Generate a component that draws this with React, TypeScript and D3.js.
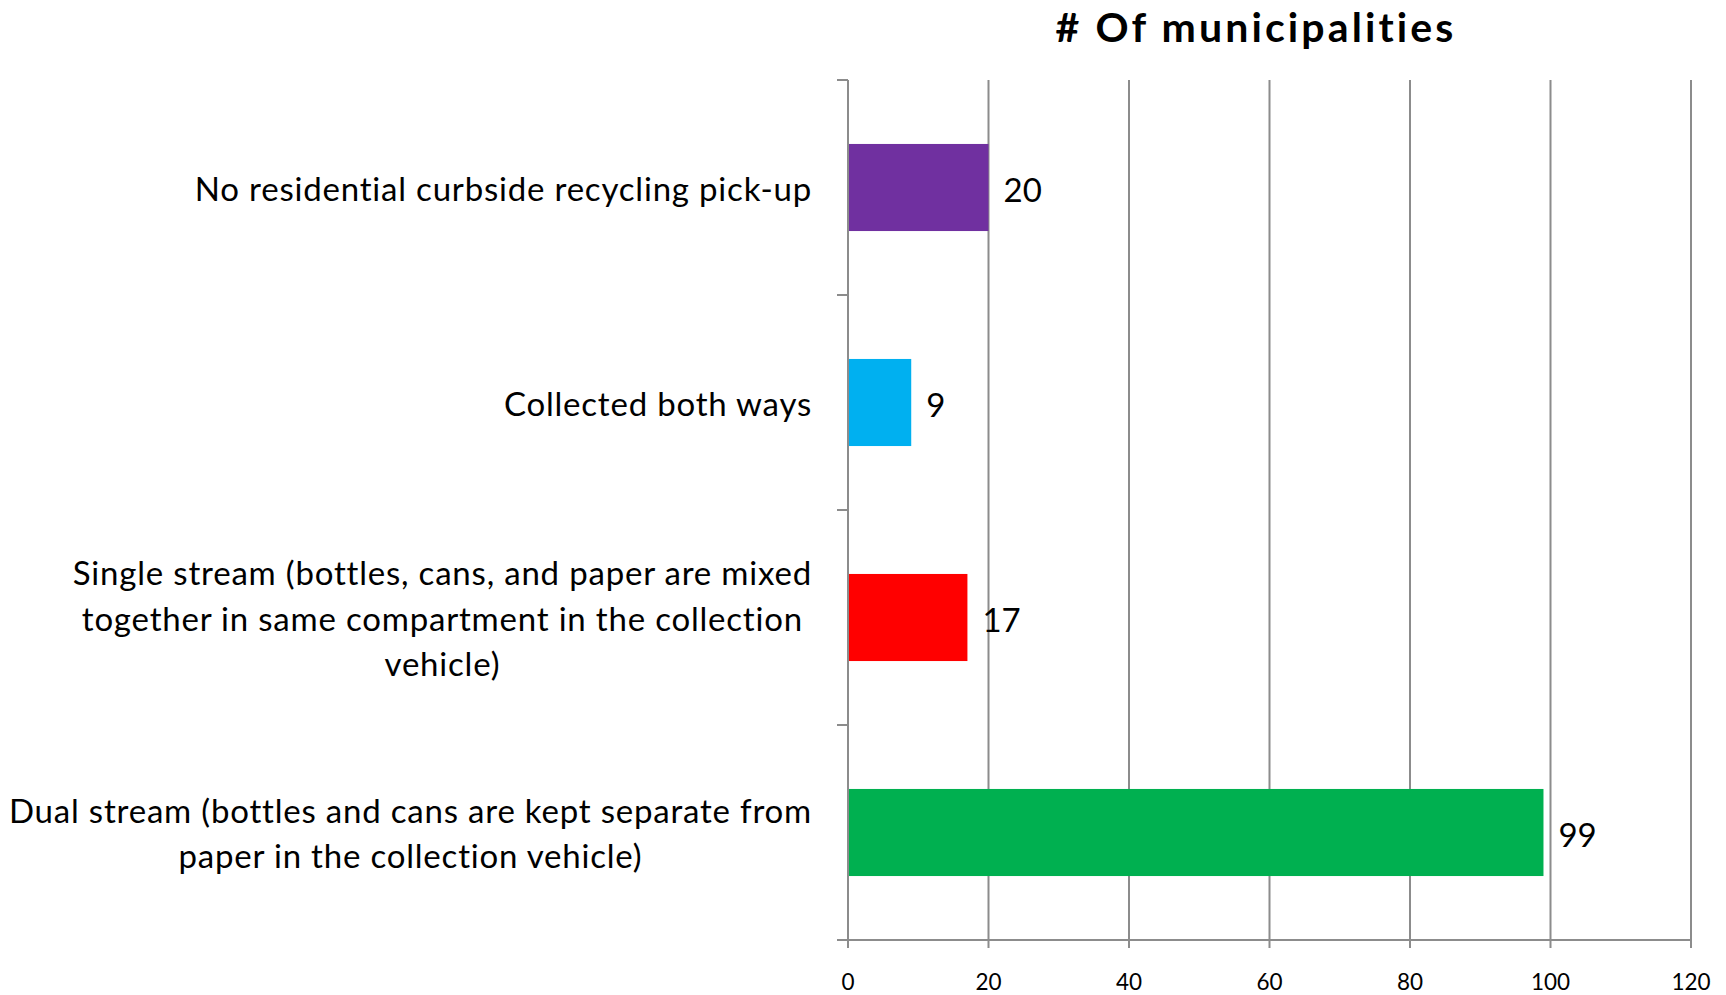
import React, { useEffect, useRef } from "react";
import * as d3 from "d3";

const categories: string[][] = [
  ["No residential curbside recycling pick-up"],
  ["Collected both ways"],
  ["Single stream (bottles, cans, and paper are mixed", "together in same compartment in the collection", "vehicle)"],
  ["Dual stream (bottles and cans are kept separate from", "paper in the collection vehicle)"],
];
const values: number[] = [20, 9, 17, 99];
const barColors: string[] = ["#7030A0", "#00B0F0", "#FF0000", "#00B050"];
const xTicks: number[] = [0, 20, 40, 60, 80, 100, 120];
const title = "# Of municipalities";

const W = 1726;
const H = 995;
const FONT = "Lato, 'Open Sans', sans-serif";

export default function App() {
  const ref = useRef<SVGSVGElement>(null);

  useEffect(() => {
    const svg = d3.select(ref.current);
    svg.selectAll("*").remove();

    const left = 848, right = 1691, top = 80, bottom = 940;
    const x = d3.scaleLinear().domain([0, 120]).range([left, right]);
    const y = d3.scaleBand<number>().domain(d3.range(categories.length)).range([top, bottom]).paddingInner(0).paddingOuter(0);
    const barH = y.bandwidth() * 0.405;
    const grid = "#8c8c8c";

    svg.append("rect").attr("width", W).attr("height", H).attr("fill", "#fff");

    // gridlines
    svg.append("g").selectAll("line").data(xTicks.filter((t) => t > 0)).join("line")
      .attr("x1", (d) => x(d)).attr("x2", (d) => x(d))
      .attr("y1", top).attr("y2", bottom + 8)
      .attr("stroke", grid).attr("stroke-width", 2);

    // bars
    svg.append("g").selectAll("rect").data(values).join("rect")
      .attr("x", x(0) + 1)
      .attr("y", (_d, i) => (y(i) as number) + y.bandwidth() / 2 - barH / 2)
      .attr("width", (d) => x(d) - x(0) - 1)
      .attr("height", barH)
      .attr("fill", (_d, i) => barColors[i]);

    // axes
    svg.append("line").attr("x1", left).attr("x2", left).attr("y1", top).attr("y2", bottom + 8)
      .attr("stroke", grid).attr("stroke-width", 2);
    svg.append("line").attr("x1", left - 11).attr("x2", right).attr("y1", bottom).attr("y2", bottom)
      .attr("stroke", grid).attr("stroke-width", 2);
    const bounds = d3.range(categories.length + 1).map((i) => top + i * y.bandwidth());
    svg.append("g").selectAll("line").data(bounds).join("line")
      .attr("x1", left - 11).attr("x2", left).attr("y1", (d) => d).attr("y2", (d) => d)
      .attr("stroke", grid).attr("stroke-width", 2);

    // x tick labels
    svg.append("g").selectAll("text").data(xTicks).join("text")
      .attr("x", (d) => x(d)).attr("y", 981)
      .attr("text-anchor", "middle").attr("dominant-baseline", "central")
      .attr("font-family", FONT).attr("font-size", 22.5).attr("fill", "#000")
      .text((d) => String(d));

    // data labels
    svg.append("g").selectAll("text").data(values).join("text")
      .attr("x", (d) => x(d) + 15)
      .attr("y", (_d, i) => (y(i) as number) + y.bandwidth() / 2 + 1)
      .attr("dominant-baseline", "central")
      .attr("font-family", FONT).attr("font-size", 33).attr("fill", "#000")
      .text((d) => String(d));

    // category labels
    const labelRight = 812;
    const lineH = 45.2;
    categories.forEach((lines, i) => {
      const cy = (y(i) as number) + y.bandwidth() / 2;
      const g = svg.append("g");
      const texts = g.selectAll("text").data(lines).join("text")
        .attr("y", (_d, j) => cy + (j - (lines.length - 1) / 2) * lineH)
        .attr("dominant-baseline", "central")
        .attr("text-anchor", "middle")
        .attr("font-family", FONT).attr("font-size", 33).attr("letter-spacing", 0.8).attr("fill", "#000")
        .text((d) => d);
      let maxW = 0;
      texts.each(function () {
        maxW = Math.max(maxW, (this as SVGTextElement).getComputedTextLength());
      });
      texts.attr("x", labelRight - maxW / 2);
    });

    // title
    svg.append("text").attr("x", 1256).attr("y", 26)
      .attr("text-anchor", "middle").attr("dominant-baseline", "central")
      .attr("font-family", FONT).attr("font-weight", "bold").attr("font-size", 41).attr("letter-spacing", 3.1).attr("fill", "#000")
      .text(title);
  }, []);

  return (
    <svg ref={ref} width={W} height={H} style={{ position: "absolute", left: 0, top: 0, display: "block" }} />
  );
}
